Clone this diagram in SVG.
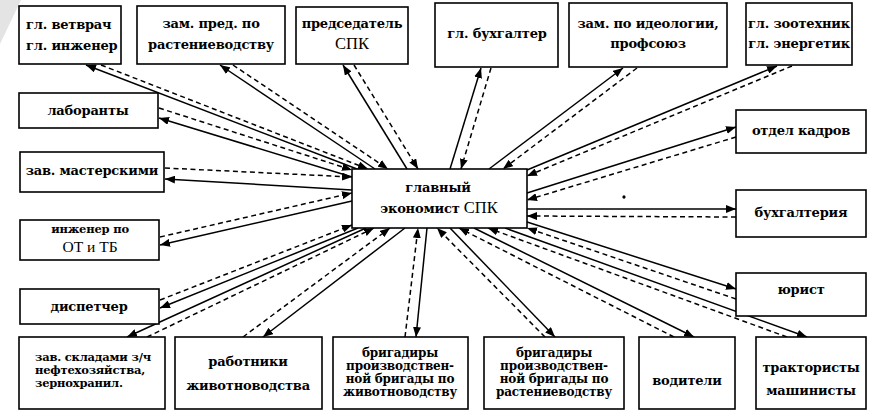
<svg xmlns="http://www.w3.org/2000/svg" width="874" height="411" viewBox="0 0 874 411">
  <style>
    .box { fill: #fff; stroke: #000; stroke-width: 1.6; }
    .t { font-family: "DejaVu Serif", "Liberation Serif", serif; font-weight: bold; font-size: 13px; fill: #000; text-anchor: middle; letter-spacing: -0.2px; }
    .l { text-anchor: start; }
    .ts { font-size: 11.5px; }
    .tb { font-size: 12px; }
    .reg { font-family: "Liberation Serif", "DejaVu Serif", serif; font-weight: normal; font-size: 16.5px; letter-spacing: 0; }
    .solid { fill: none; stroke: #000; stroke-width: 1.5; marker-end: url(#arrow); }
    .dash { fill: none; stroke: #000; stroke-width: 1.5; stroke-dasharray: 5 3.5; marker-end: url(#arrow); }
  </style>
  <defs>
    <marker id="arrow" markerUnits="userSpaceOnUse" markerWidth="10" markerHeight="8" refX="10" refY="4" orient="auto">
      <path d="M0,0 L10,4 L0,8 z" fill="#000"/>
    </marker>
  </defs>

  <rect width="874" height="411" fill="#fff"/>
  <!-- grey wedge in the top-left corner -->
  <polygon points="0,0 21,0 0,44" fill="#e4e4e4"/>
  <!-- small speck -->
  <ellipse cx="624" cy="197" rx="1.6" ry="1.8" fill="#000"/>

  <!-- connectors: solid arrows go outward, dashed arrows come back to the centre -->
  <g id="connectors">
    <!-- top row -->
    <line class="solid" x1="357" y1="169" x2="86" y2="65"/>
    <line class="dash" x1="101" y1="65" x2="368" y2="169"/>
    <line class="solid" x1="375" y1="169" x2="220" y2="65"/>
    <line class="dash" x1="233" y1="65" x2="388" y2="169"/>
    <line class="solid" x1="407" y1="169" x2="343" y2="65"/>
    <line class="dash" x1="354" y1="65" x2="418" y2="169"/>
    <line class="solid" x1="450" y1="169" x2="481" y2="68"/>
    <line class="dash" x1="491" y1="68" x2="461" y2="169"/>
    <line class="solid" x1="489" y1="169" x2="623" y2="68"/>
    <line class="dash" x1="637" y1="68" x2="503" y2="169"/>
    <line class="solid" x1="527" y1="170" x2="777" y2="66"/>
    <line class="dash" x1="792" y1="66" x2="527" y2="176"/>
    <!-- left column -->
    <line class="dash" x1="159" y1="108" x2="352" y2="170"/>
    <line class="solid" x1="352" y1="177" x2="159" y2="118"/>
    <line class="dash" x1="165" y1="168" x2="352" y2="177"/>
    <line class="solid" x1="352" y1="190" x2="165" y2="179"/>
    <line class="dash" x1="160" y1="237" x2="352" y2="193"/>
    <line class="solid" x1="352" y1="201" x2="160" y2="245"/>
    <line class="dash" x1="160" y1="300" x2="352" y2="225"/>
    <line class="solid" x1="358" y1="228" x2="160" y2="308"/>
    <!-- bottom row -->
    <line class="solid" x1="366" y1="228" x2="127" y2="337"/>
    <line class="dash" x1="147" y1="337" x2="374" y2="228"/>
    <line class="solid" x1="405" y1="228" x2="263" y2="337"/>
    <line class="dash" x1="243" y1="337" x2="390" y2="228"/>
    <line class="solid" x1="427" y1="228" x2="416" y2="337"/>
    <line class="dash" x1="405" y1="337" x2="418" y2="228"/>
    <line class="solid" x1="450" y1="228" x2="555" y2="337"/>
    <line class="dash" x1="545" y1="337" x2="437" y2="228"/>
    <line class="solid" x1="474" y1="228" x2="694" y2="337"/>
    <line class="dash" x1="674" y1="337" x2="459" y2="228"/>
    <line class="solid" x1="505" y1="228" x2="807" y2="337"/>
    <line class="dash" x1="787" y1="337" x2="488" y2="228"/>
    <!-- right column -->
    <line class="solid" x1="527" y1="222" x2="736" y2="289"/>
    <line class="dash" x1="736" y1="299" x2="527" y2="228"/>
    <line class="solid" x1="527" y1="209" x2="736" y2="209"/>
    <line class="dash" x1="736" y1="217" x2="527" y2="216"/>
    <line class="solid" x1="527" y1="193" x2="736" y2="127"/>
    <line class="dash" x1="736" y1="137" x2="527" y2="200"/>
  </g>

  <g id="center">
    <rect class="box" x="352" y="169" width="175" height="59"/>
    <text class="t" x="438" y="192">главный</text>
    <text class="t" x="439" y="213">экономист <tspan class="reg">СПК</tspan></text>
  </g>

  <g id="vetvrach">
    <rect class="box" x="19" y="6" width="102" height="58"/>
    <text class="t l" x="26" y="29">гл. ветврач</text>
    <text class="t l" x="26" y="50">гл. инженер</text>
  </g>
  <g id="zam-rast">
    <rect class="box" x="137" y="6" width="148" height="58"/>
    <text class="t" x="211" y="28">зам. пред. по</text>
    <text class="t" x="211" y="49">растениеводству</text>
  </g>
  <g id="predsedatel">
    <rect class="box" x="296" y="7" width="112" height="57"/>
    <text class="t" x="352" y="28">председатель</text>
    <text class="t reg" x="352" y="49">СПК</text>
  </g>
  <g id="gl-buh">
    <rect class="box" x="435" y="3" width="123" height="64"/>
    <text class="t" x="497" y="38">гл. бухгалтер</text>
  </g>
  <g id="zam-ideol">
    <rect class="box" x="569" y="3" width="158" height="64"/>
    <text class="t" x="648" y="28">зам. по идеологии,</text>
    <text class="t" x="648" y="48">профсоюз</text>
  </g>
  <g id="zootehnik">
    <rect class="box" x="746" y="3" width="106" height="62"/>
    <text class="t" x="799" y="28">гл. зоотехник</text>
    <text class="t" x="799" y="48">гл. энергетик</text>
  </g>

  <g id="laboranty">
    <rect class="box" x="19" y="93" width="139" height="35"/>
    <text class="t" x="88" y="115">лаборанты</text>
  </g>
  <g id="zav-mast">
    <rect class="box" x="20" y="152" width="144" height="40"/>
    <text class="t" x="92" y="175">зав. мастерскими</text>
  </g>
  <g id="inzhener">
    <rect class="box" x="20" y="220" width="139" height="40"/>
    <text class="t ts" x="90" y="233">инженер по</text>
    <text class="t reg" x="90" y="252" style="font-size:15.5px">ОТ и ТБ</text>
  </g>
  <g id="dispetcher">
    <rect class="box" x="20" y="289" width="139" height="35"/>
    <text class="t" x="89" y="311">диспетчер</text>
  </g>

  <g id="otdel-kadrov">
    <rect class="box" x="736" y="110" width="130" height="43"/>
    <text class="t" x="801" y="135">отдел кадров</text>
  </g>
  <g id="buhgalteriya">
    <rect class="box" x="736" y="190" width="130" height="47"/>
    <text class="t" x="801" y="217">бухгалтерия</text>
  </g>
  <g id="yurist">
    <rect class="box" x="736" y="273" width="130" height="43"/>
    <text class="t" x="801" y="294">юрист</text>
  </g>

  <g id="zav-skladami">
    <rect class="box" x="19" y="337" width="146" height="72"/>
    <text class="t ts l" x="35" y="361">зав. складами з/ч</text>
    <text class="t ts l" x="35" y="374">нефтехозяйства,</text>
    <text class="t ts l" x="35" y="387">зернохранил.</text>
  </g>
  <g id="rabotniki">
    <rect class="box" x="175" y="337" width="147" height="72"/>
    <text class="t" x="248" y="366">работники</text>
    <text class="t" x="248" y="390">животноводства</text>
  </g>
  <g id="brig-zhiv">
    <rect class="box" x="333" y="337" width="135" height="72"/>
    <text class="t tb" x="400" y="357">бригадиры</text>
    <text class="t tb" x="400" y="370">производствен-</text>
    <text class="t tb" x="400" y="383">ной бригады по</text>
    <text class="t tb" x="400" y="396">животноводству</text>
  </g>
  <g id="brig-rast">
    <rect class="box" x="484" y="337" width="140" height="72"/>
    <text class="t tb" x="554" y="357">бригадиры</text>
    <text class="t tb" x="554" y="370">производствен-</text>
    <text class="t tb" x="554" y="383">ной бригады по</text>
    <text class="t tb" x="554" y="396">растениеводству</text>
  </g>
  <g id="voditeli">
    <rect class="box" x="639" y="337" width="96" height="72"/>
    <text class="t" x="687" y="385">водители</text>
  </g>
  <g id="traktoristy">
    <rect class="box" x="756" y="337" width="110" height="72"/>
    <text class="t" x="811" y="372">трактористы</text>
    <text class="t" x="811" y="395">машинисты</text>
  </g>
</svg>
